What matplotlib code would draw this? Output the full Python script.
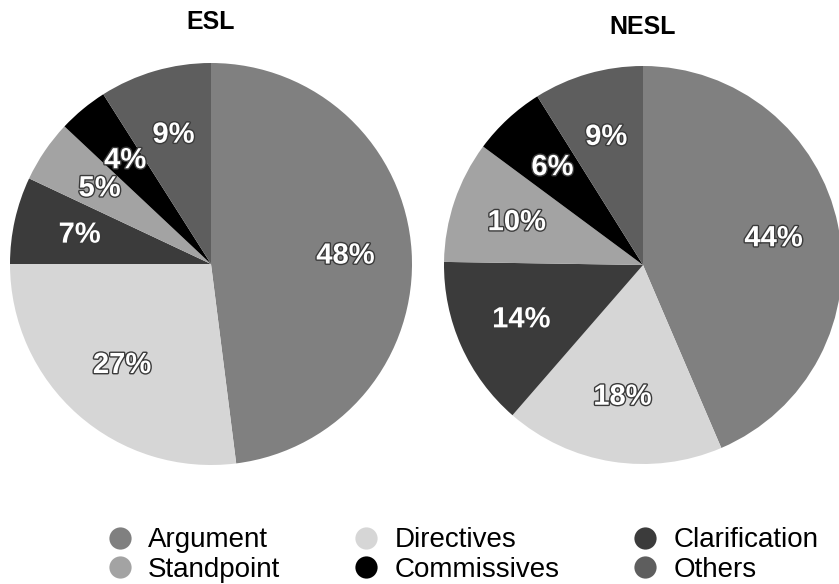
import matplotlib
matplotlib.use("Agg")
import matplotlib.pyplot as plt
import matplotlib.patheffects as pe
from matplotlib.lines import Line2D

plt.rcParams["font.family"] = ["Liberation Sans", "DejaVu Sans"]

categories = ["Argument", "Directives", "Clarification", "Standpoint", "Commissives", "Others"]
esl_pct = [48, 27, 7, 5, 4, 9]
nesl_pct = [44, 18, 14, 10, 6, 9]
colors = ["#808080", "#d6d6d6", "#3b3b3b", "#a3a3a3", "#000000", "#5e5e5e"]
legend_order = ["Argument", "Standpoint", "Directives", "Commissives", "Clarification", "Others"]

W, H = 839, 584
fig = plt.figure(figsize=(W / 100, H / 100), dpi=100)

label_fx = [pe.withStroke(linewidth=2.0, foreground="#3a3a3a")]

def draw_pie(cx, cy, r, vals, title, ty):
    ax = fig.add_axes([(cx - r) / W, (H - cy - r) / H, 2 * r / W, 2 * r / H])
    # shares are rounded (NESL adds to 101), so the stated values go on the wedges
    ax.pie(vals, colors=colors, startangle=90, counterclock=False,
           labels=[f"{v}%" for v in vals], labeldistance=0.67,
           textprops=dict(color="white", fontsize=21, fontweight="bold",
                          path_effects=label_fx, ha="center", va="center"),
           wedgeprops=dict(linewidth=0))
    ax.set_xlim(-1, 1); ax.set_ylim(-1, 1); ax.set_aspect("auto")
    ax.axis("off")
    fig.text(cx / W, 1 - ty / H, title, ha="center", va="center",
             fontsize=18, fontweight="bold")

draw_pie(211, 264, 201, esl_pct, "ESL", 22)
draw_pie(643, 265, 199, nesl_pct, "NESL", 27)

handles = [Line2D([], [], marker="o", ls="none", markersize=16,
                  markerfacecolor=colors[categories.index(c)], markeredgewidth=0)
           for c in legend_order]
fig.legend(handles, legend_order, loc="center", bbox_to_anchor=(463 / W, 1 - 555 / H),
           ncol=3, frameon=False, fontsize=20, handlelength=0.9, handletextpad=0.55,
           columnspacing=2.65, labelspacing=0.12, borderpad=0)

fig.savefig("out.png", dpi=100)
